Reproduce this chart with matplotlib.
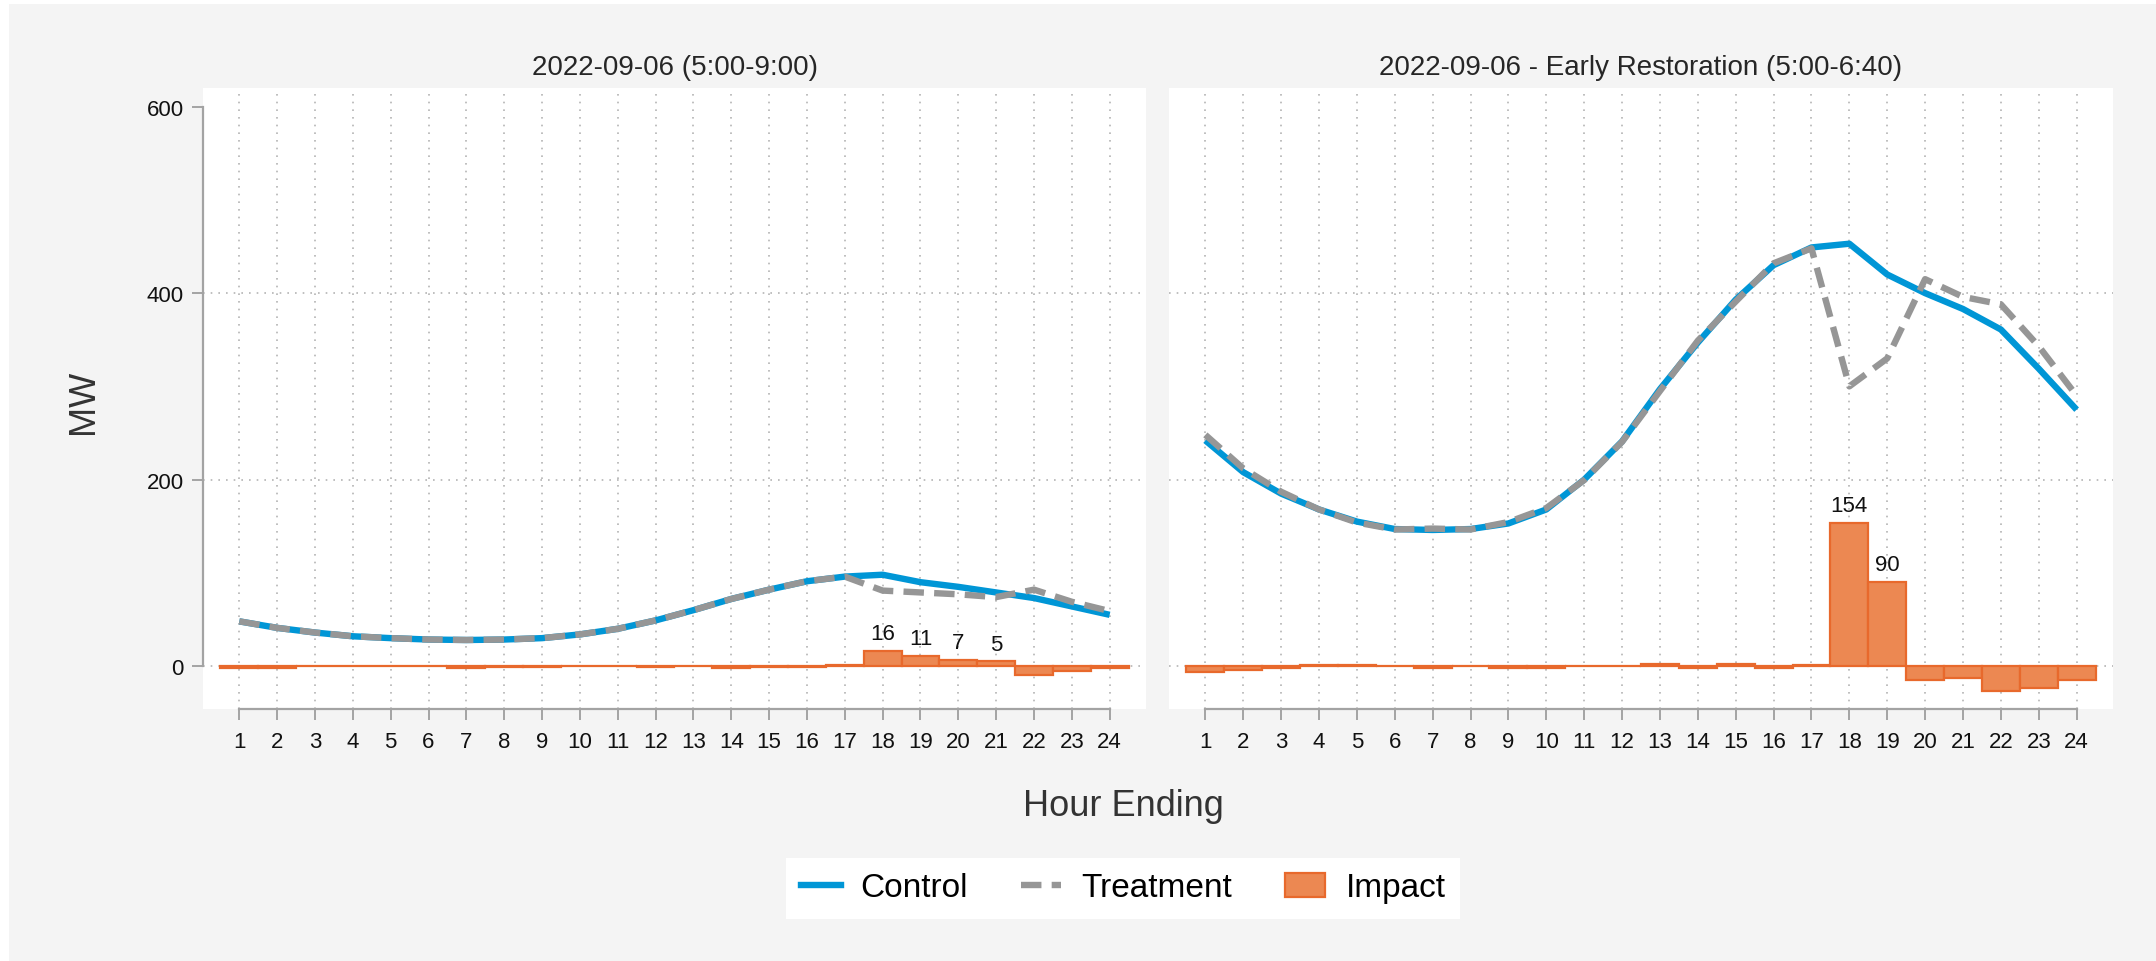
import numpy as np
import matplotlib
matplotlib.use('Agg')
import matplotlib.pyplot as plt
from matplotlib.patches import Rectangle, Patch
from matplotlib.lines import Line2D

plt.rcParams['font.family'] = ['Liberation Sans', 'DejaVu Sans']

hours = list(range(1, 25))

# panel 1: 2022-09-06 (5:00-9:00)
ctrl_a = [48, 41, 36, 32, 30, 28.5, 28, 28.5, 30, 34, 40, 49, 60, 72, 82, 91, 96, 98, 90, 85, 79, 73, 64, 55]
treat_a = [48, 41, 36, 32, 30, 28.5, 28, 28.5, 30, 34, 40, 49, 60, 72, 82, 91, 96, 81, 79, 77, 74, 82, 69, 59]
impact_a = [-1.5, -2, 0, 0.5, 0, 0, -1.5, -1, -1, 0, 0, -1, 0, -1.5, -0.5, -1, 1, 16, 11, 7, 5, -9, -5, -2]

# panel 2: early restoration (5:00-6:40)
ctrl_b = [242, 208, 185, 168, 155, 147, 146, 147, 153, 168, 200, 241, 297, 347, 393, 430, 449, 453, 420, 400, 383, 361, 319, 275]
treat_b = [248, 212, 187, 168, 154, 146.5, 147.5, 146.5, 154.5, 169.5, 199.5, 240.5, 295, 349, 391, 432, 448, 300, 330, 415, 396, 388, 343, 290]
impact_b = [-6, -4, -2, 1, 1, 0.5, -1.5, 0.5, -1.5, -1.5, 0.5, 0.5, 2, -2, 2, -2, 1, 154, 90, -15, -13, -27, -24, -15]

titles = ['2022-09-06 (5:00-9:00)', '2022-09-06 - Early Restoration (5:00-6:40)']
yticks = [0, 200, 400, 600]

BLUE = '#0096d6'
GRAY = '#969696'
ORANGE = '#ec8852'
ORANGE_EDGE = '#e8692c'
AXC = '#a3a3a3'
BG = '#f4f4f4'
GRID = '#b4b4b4'

W, H = 2156, 962
fig = plt.figure(figsize=(W / 100, H / 100), dpi=100, facecolor='white')
fig.patches.append(Rectangle((9 / W, 0), 1, 1 - 5 / H, transform=fig.transFigure,
                             facecolor=BG, edgecolor='none', zorder=-10))

ax1 = fig.add_axes([203 / W, 1 - 710 / H, (1146 - 203) / W, (710 - 89) / H])
ax2 = fig.add_axes([1169 / W, 1 - 710 / H, (2113 - 1169) / W, (710 - 89) / H])

panels = [(ax1, ctrl_a, treat_a, impact_a), (ax2, ctrl_b, treat_b, impact_b)]
for i, (ax, ctrl, treat, imp) in enumerate(panels):
    ax.set_facecolor('white')
    for h in hours:
        ax.axvline(h, color=GRID, lw=1.2, dashes=(1, 3.6), zorder=0)
    for yv in [0, 200, 400]:
        ax.axhline(yv, color=GRID, lw=1.2, dashes=(1, 3.6), zorder=0)
    ax.bar(hours, imp, width=1.0, color=ORANGE, edgecolor=ORANGE_EDGE, linewidth=1.6, zorder=2)
    ax.plot(hours, ctrl, color=BLUE, lw=4.6, zorder=3, solid_capstyle='butt')
    ax.plot(hours, treat, color=GRAY, lw=4.6, dashes=(3.2, 1.6), zorder=4)
    for h, v in zip(hours, imp):
        if v >= 4:
            ax.annotate(f'{round(v)}', (h, v), xytext=(0, 5), textcoords='offset points',
                        ha='center', va='bottom', fontsize=16, color='#111111')
    ax.set_xlim(0.04, 24.96)
    ax.set_ylim(-46, 620)
    ax.set_xticks(hours)
    ax.set_xticklabels([str(h) for h in hours])
    ax.set_title(titles[i], fontsize=20, color='#262626', pad=10)
    for s in ['top', 'right']:
        ax.spines[s].set_visible(False)
    ax.spines['bottom'].set_bounds(1, 24)
    ax.spines['bottom'].set_color(AXC)
    ax.spines['bottom'].set_linewidth(1.6)
    ax.tick_params(axis='x', length=8, width=1.4, color=AXC, labelsize=16, pad=8, labelcolor='#111111')
    if i == 0:
        ax.spines['left'].set_bounds(0, 600)
        ax.spines['left'].set_color(AXC)
        ax.spines['left'].set_linewidth(1.6)
        ax.set_yticks(yticks)
        ax.tick_params(axis='y', length=8, width=1.4, color=AXC, labelsize=16, pad=6, labelcolor='#111111')
    else:
        ax.spines['left'].set_visible(False)
        ax.set_yticks([])

fig.text(83 / W, 1 - 402 / H, 'MW', rotation=90, ha='center', va='center', fontsize=26, color='#333333')
fig.text(1123 / W, 1 - 807 / H, 'Hour Ending', ha='center', va='center', fontsize=26, color='#333333')

handles = [Line2D([], [], color=BLUE, lw=4.6),
           Line2D([], [], color=GRAY, lw=4.6, dashes=(3.2, 1.6)),
           Patch(facecolor=ORANGE, edgecolor=ORANGE_EDGE, linewidth=1.6)]
leg = fig.legend(handles, ['Control', 'Treatment', 'Impact'], loc='center',
                 bbox_to_anchor=(1123 / W, 1 - 889 / H), ncol=3, fontsize=24,
                 frameon=True, fancybox=False, framealpha=1, edgecolor='none', facecolor='white',
                 handlelength=1.2, handletextpad=0.6, columnspacing=1.6, borderpad=0.45)

fig.savefig('out.png', dpi=100, facecolor=fig.get_facecolor())
